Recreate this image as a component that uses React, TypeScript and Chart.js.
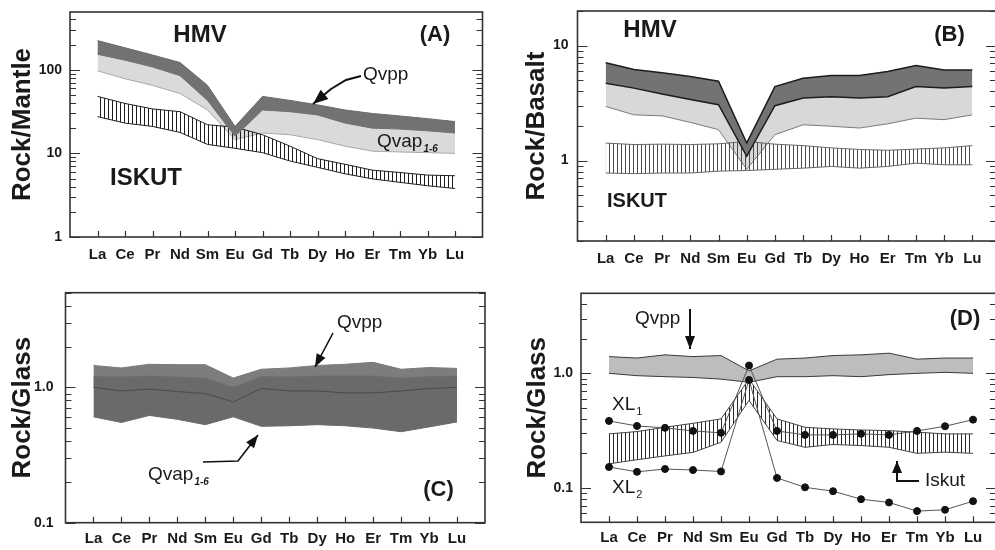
import React, { useEffect, useRef } from 'react';
import { Chart, registerables } from 'chart.js';

Chart.register(...registerables);

const FONT = '"Liberation Sans", Arial, Helvetica, sans-serif';

// ---------- categories ----------
const REE = ['La', 'Ce', 'Pr', 'Nd', 'Sm', 'Eu', 'Gd', 'Tb', 'Dy', 'Ho', 'Er', 'Tm', 'Yb', 'Lu'];
const X_POS = REE.map((_, i) => i + 1);

// ---------- Panel A : Rock/Mantle ----------
const A_QVPP_HI = [223, 183, 150, 122, 65, 21, 48, 43, 38, 33, 30, 28, 26, 24];
const A_QVPP_LO = [153, 130, 108, 85, 43, 16, 33, 31.5, 28.8, 23, 20, 19.5, 18.6, 17.5];
const A_QVAP_HI = [165, 140, 116, 92, 48, 18, 38, 35, 32, 26, 23, 22, 21, 20];
const A_QVAP_LO = [97, 78, 65, 52, 33, 14.6, 17.5, 16.7, 14.6, 12.2, 10.6, 10.4, 10.2, 10];
const A_ISKUT_HI = [48, 39.5, 34, 31.5, 22, 20.6, 16.7, 12.2, 8.65, 7.4, 6.3, 5.9, 5.5, 5.4];
const A_ISKUT_LO = [27.5, 23, 21, 17.8, 12.8, 11.5, 10.2, 8.1, 6.8, 5.7, 4.95, 4.5, 4.1, 3.8];
const A_Y_TICKS = [1, 10, 100];
const A_Y_TEXT = ['1', '10', '100'];

// ---------- Panel B : Rock/Basalt ----------
const B_QVPP_HI = [7.1, 6.2, 5.8, 5.4, 4.9, 1.42, 4.4, 5.2, 5.5, 5.5, 5.95, 6.7, 6.15, 6.15];
const B_QVPP_LO = [4.7, 4.27, 3.8, 3.4, 3.06, 1.09, 3.0, 3.5, 3.6, 3.5, 3.6, 4.4, 4.27, 4.4];
const B_QVAP_HI = [4.8, 4.35, 3.9, 3.5, 3.15, 1.3, 3.1, 3.6, 3.7, 3.6, 3.7, 4.5, 4.35, 4.5];
const B_QVAP_LO = [2.96, 2.5, 2.45, 2.15, 1.86, 0.84, 1.68, 2.05, 1.99, 1.92, 2.09, 2.34, 2.27, 2.5];
const B_ISKUT_HI = [1.42, 1.38, 1.39, 1.38, 1.4, 1.47, 1.39, 1.35, 1.29, 1.25, 1.23, 1.26, 1.29, 1.35];
const B_ISKUT_LO = [0.78, 0.77, 0.78, 0.78, 0.81, 0.82, 0.84, 0.86, 0.89, 0.86, 0.89, 0.95, 0.92, 0.92];
const B_Y_TICKS = [1, 10];
const B_Y_TEXT = ['1', '10'];

// ---------- Panel C : Rock/Glass ----------
const C_QVPP_HI = [1.45, 1.39, 1.48, 1.47, 1.47, 1.17, 1.36, 1.39, 1.45, 1.48, 1.53, 1.36, 1.4, 1.38];
const C_QVPP_LO = [1.0, 0.94, 0.97, 0.93, 0.9, 0.78, 0.98, 0.94, 0.94, 0.91, 0.91, 0.94, 0.98, 1.0];
const C_QVAP_HI = [1.2, 1.19, 1.21, 1.19, 1.17, 1.0, 1.2, 1.19, 1.21, 1.21, 1.21, 1.17, 1.2, 1.21];
const C_QVAP_LO = [0.605, 0.55, 0.62, 0.58, 0.53, 0.605, 0.515, 0.52, 0.53, 0.52, 0.5, 0.47, 0.51, 0.555];
const C_Y_TICKS = [0.1, 1];
const C_Y_TEXT = ['0.1', '1.0'];

// ---------- Panel D : Rock/Glass ----------
const D_QVPP_HI = [1.4, 1.36, 1.45, 1.4, 1.43, 1.05, 1.33, 1.36, 1.43, 1.45, 1.5, 1.33, 1.36, 1.36];
const D_QVPP_LO = [1.0, 0.954, 0.935, 0.92, 0.89, 0.835, 0.935, 0.935, 0.954, 0.935, 0.974, 1.0, 1.02, 1.0];
const D_ISKUT_HI = [0.296, 0.31, 0.338, 0.366, 0.4, 0.89, 0.4, 0.338, 0.327, 0.32, 0.316, 0.306, 0.296, 0.296];
const D_ISKUT_LO = [0.162, 0.176, 0.19, 0.204, 0.25, 0.58, 0.259, 0.226, 0.239, 0.234, 0.226, 0.2, 0.205, 0.2];
const D_XL1 = [0.384, 0.347, 0.334, 0.314, 0.302, 1.17, 0.314, 0.29, 0.29, 0.296, 0.29, 0.314, 0.345, 0.394];
const D_XL2 = [0.152, 0.138, 0.146, 0.143, 0.139, 0.875, 0.122, 0.101, 0.0935, 0.0796, 0.0745, 0.0626, 0.0643, 0.0765];
const D_Y_TICKS = [0.1, 1];
const D_Y_TEXT = ['0.1', '1.0'];

// ---------- helpers ----------
function toXY(arr: number[]) {
  return arr.map((v, i) => ({ x: X_POS[i], y: v }));
}

function band(
  lo: number[], hi: number[], fill: any, loLine: string, hiLine: string, lw: number,
  order: number, loOrder?: number
) {
  return [
    { data: toXY(lo), borderColor: loLine, borderWidth: lw, pointRadius: 0, fill: false, order: loOrder ?? order, tension: 0 },
    { data: toXY(hi), borderColor: hiLine, borderWidth: lw, pointRadius: 0, fill: '-1', backgroundColor: fill, order, tension: 0 },
  ];
}

function hatch(color: string, spacing: number) {
  const c = document.createElement('canvas');
  c.width = spacing;
  c.height = 8;
  const g = c.getContext('2d')!;
  g.fillStyle = color;
  g.fillRect(0, 0, 1, 8);
  return g.createPattern(c, 'repeat');
}

type Note =
  | { kind: 'text'; text: string; x: number; y: number; size: number; bold?: boolean; align?: CanvasTextAlign; sub?: string; subSize?: number; subStyle?: string }
  | { kind: 'arrow'; pts: number[][]; head: number; hw: number; lw?: number };

function drawNotes(ctx: CanvasRenderingContext2D, notes: Note[]) {
  ctx.save();
  for (const n of notes) {
    if (n.kind === 'text') {
      ctx.font = `${n.bold ? 'bold ' : ''}${n.size}px ${FONT}`;
      ctx.fillStyle = '#1a1a1a';
      ctx.textBaseline = 'middle';
      ctx.textAlign = n.align || 'left';
      ctx.fillText(n.text, n.x, n.y);
      if (n.sub) {
        const w = ctx.measureText(n.text).width;
        const sx = n.align === 'center' ? n.x + w / 2 : n.x + w;
        ctx.font = `${n.subStyle || ''} ${n.subSize || 11}px ${FONT}`;
        ctx.textAlign = 'left';
        ctx.fillText(n.sub, sx + 1, n.y + n.size * 0.38);
      }
    } else {
      const p = n.pts;
      ctx.strokeStyle = '#111';
      ctx.fillStyle = '#111';
      ctx.lineWidth = n.lw || 1.6;
      ctx.beginPath();
      ctx.moveTo(p[0][0], p[0][1]);
      for (let i = 1; i < p.length; i++) ctx.lineTo(p[i][0], p[i][1]);
      ctx.stroke();
      const [x1, y1] = p[p.length - 2];
      const [x2, y2] = p[p.length - 1];
      const a = Math.atan2(y2 - y1, x2 - x1);
      const c = Math.cos(a), s = Math.sin(a);
      ctx.beginPath();
      ctx.moveTo(x2, y2);
      ctx.lineTo(x2 - n.head * c + (n.hw / 2) * s, y2 - n.head * s - (n.hw / 2) * c);
      ctx.lineTo(x2 - n.head * c - (n.hw / 2) * s, y2 - n.head * s + (n.hw / 2) * c);
      ctx.closePath();
      ctx.fill();
    }
  }
  ctx.restore();
}

interface Panel {
  left: number; top: number; width: number; height: number;
  area: { l: number; t: number; r: number; b: number };
  xMax: number;
  yMin: number; yMax: number; yTicks: number[]; yText: string[];
  title: string; titleX: number; yPad: number; xPad: number;
  datasets: () => any[];
  notes: Note[];
}

const PANELS: Panel[] = [
  {
    left: 0, top: 0, width: 497, height: 275,
    area: { l: 70, t: 12, r: 482.5, b: 237 }, xMax: 15,
    yMin: 1, yMax: 490, yTicks: A_Y_TICKS, yText: A_Y_TEXT,
    title: 'Rock/Mantle', titleX: 22.5, yPad: 8, xPad: 9,
    datasets: () => [
      ...band(A_QVPP_LO, A_QVPP_HI, '#727272', '#727272', '#6a6a6a', 1, 1),
      ...band(A_ISKUT_LO, A_ISKUT_HI, hatch('#1e1e1e', 4), '#1e1e1e', '#1e1e1e', 1, 2),
      ...band(A_QVAP_LO, A_QVAP_HI, '#dadada', '#a8a8a8', '#dadada', 1, 3),
    ],
    notes: [
      { kind: 'text', text: 'HMV', x: 200, y: 35, size: 24, bold: true, align: 'center' },
      { kind: 'text', text: '(A)', x: 435, y: 35, size: 22, bold: true, align: 'center' },
      { kind: 'text', text: 'Qvpp', x: 363, y: 75, size: 19 },
      { kind: 'arrow', pts: [[361, 76], [346, 80], [331, 89], [313, 104]], head: 15, hw: 12, lw: 2 },
      { kind: 'text', text: 'Qvap', x: 377, y: 142, size: 19, sub: '1-6', subSize: 10, subStyle: 'italic bold' },
      { kind: 'text', text: 'ISKUT', x: 110, y: 178, size: 24, bold: true },
    ],
  },
  {
    left: 497, top: 0, width: 510, height: 275,
    area: { l: 80.5, t: 11, r: 499, b: 241 }, xMax: 14.84,
    yMin: 0.2, yMax: 20, yTicks: B_Y_TICKS, yText: B_Y_TEXT,
    title: 'Rock/Basalt', titleX: 40, yPad: 9, xPad: 9,
    datasets: () => [
      ...band(B_QVPP_LO, B_QVPP_HI, '#737373', '#1c1c1c', '#1c1c1c', 1.5, 1),
      ...band(B_ISKUT_LO, B_ISKUT_HI, hatch('#4a4a4a', 4), '#666', '#666', 1, 2),
      ...band(B_QVAP_LO, B_QVAP_HI, '#d8d8d8', '#7a7a7a', '#d8d8d8', 1, 3),
    ],
    notes: [
      { kind: 'text', text: 'HMV', x: 153, y: 30, size: 24, bold: true, align: 'center' },
      { kind: 'text', text: '(B)', x: 452.5, y: 35, size: 22, bold: true, align: 'center' },
      { kind: 'text', text: 'ISKUT', x: 110, y: 201, size: 20, bold: true },
    ],
  },
  {
    left: 0, top: 275, width: 497, height: 275,
    area: { l: 65.5, t: 17.7, r: 485, b: 247.7 }, xMax: 15,
    yMin: 0.1, yMax: 5, yTicks: C_Y_TICKS, yText: C_Y_TEXT,
    title: 'Rock/Glass', titleX: 22.5, yPad: 12, xPad: 7,
    datasets: () => [
      ...band(C_QVPP_LO, C_QVPP_HI, '#7d7d7d', '#4a4a4a', '#7a7a7a', 1, 3, 0),
      ...band(C_QVAP_LO, C_QVAP_HI, '#6a6a6a', '#6a6a6a', '#6f6f6f', 1, 2),
    ],
    notes: [
      { kind: 'text', text: 'Qvpp', x: 337, y: 48, size: 19 },
      { kind: 'arrow', pts: [[333, 58], [315, 92]], head: 13, hw: 10 },
      { kind: 'text', text: 'Qvap', x: 148, y: 200, size: 19, sub: '1-6', subSize: 10, subStyle: 'italic bold' },
      { kind: 'arrow', pts: [[203, 187], [238, 186], [258, 160]], head: 13, hw: 10 },
      { kind: 'text', text: '(C)', x: 438.5, y: 215, size: 22, bold: true, align: 'center' },
    ],
  },
  {
    left: 497, top: 275, width: 510, height: 275,
    area: { l: 84, t: 18.3, r: 499, b: 247.3 }, xMax: 14.82,
    yMin: 0.05, yMax: 5, yTicks: D_Y_TICKS, yText: D_Y_TEXT,
    title: 'Rock/Glass', titleX: 40.5, yPad: 8, xPad: 7,
    datasets: () => [
      { data: toXY(D_XL1), borderColor: '#555', borderWidth: 1, pointRadius: 3.5, pointBackgroundColor: '#111', pointBorderColor: '#111', fill: false, order: 1, tension: 0 },
      { data: toXY(D_XL2), borderColor: '#555', borderWidth: 1, pointRadius: 3.5, pointBackgroundColor: '#111', pointBorderColor: '#111', fill: false, order: 1, tension: 0 },
      ...band(D_ISKUT_LO, D_ISKUT_HI, hatch('#2a2a2a', 4), '#444', '#444', 1, 2),
      ...band(D_QVPP_LO, D_QVPP_HI, '#bdbdbd', '#3a3a3a', '#3a3a3a', 1, 3),
    ],
    notes: [
      { kind: 'text', text: 'Qvpp', x: 138, y: 44, size: 19 },
      { kind: 'arrow', pts: [[193, 34], [193, 74]], head: 13, hw: 10, lw: 2 },
      { kind: 'text', text: '(D)', x: 468, y: 44, size: 22, bold: true, align: 'center' },
      { kind: 'text', text: 'XL', x: 115, y: 130, size: 19, sub: '1', subSize: 11 },
      { kind: 'text', text: 'XL', x: 115, y: 213, size: 19, sub: '2', subSize: 11 },
      { kind: 'text', text: 'Iskut', x: 428, y: 206, size: 19 },
      { kind: 'arrow', pts: [[422, 206], [400, 206], [400, 186]], head: 12, hw: 10, lw: 2 },
    ],
  },
];

const frameTicks = {
  id: 'frameTicks',
  afterDatasetsDraw(chart: any) {
    const { ctx, chartArea } = chart;
    const { left, right, top, bottom } = chartArea;
    const x = chart.scales.x;
    const y = chart.scales.y;
    ctx.save();
    ctx.strokeStyle = '#333';
    ctx.lineWidth = 1.2;
    const min = y.min, max = y.max;
    const d0 = Math.floor(Math.log10(min) + 1e-9);
    const d1 = Math.ceil(Math.log10(max));
    ctx.beginPath();
    for (let d = d0; d <= d1; d++) {
      for (let k = 1; k <= 9; k++) {
        const v = k * Math.pow(10, d);
        if (v < min * 0.999 || v > max * 1.001) continue;
        const py = Math.round(y.getPixelForValue(v)) + 0.5;
        const len = k === 1 ? 10 : 6;
        ctx.moveTo(left, py);
        ctx.lineTo(left + len, py);
        ctx.moveTo(right, py);
        ctx.lineTo(right - len, py);
      }
    }
    for (const xv of X_POS) {
      const px = Math.round(x.getPixelForValue(xv)) + 0.5;
      ctx.moveTo(px, bottom);
      ctx.lineTo(px, bottom - 6);
    }
    ctx.stroke();
    ctx.lineWidth = 1.6;
    ctx.strokeRect(left, top, right - left, bottom - top);
    ctx.restore();
  },
};

function buildChart(canvas: HTMLCanvasElement, p: Panel) {
  const notesPlugin = {
    id: 'notes',
    afterDraw(chart: any) {
      drawNotes(chart.ctx, p.notes);
    },
  };
  return new Chart(canvas, {
    type: 'line',
    data: { datasets: p.datasets() },
    options: {
      responsive: false,
      animation: false,
      events: [],
      layout: { padding: { left: 0, top: p.area.t, right: p.width - p.area.r, bottom: 0 } },
      plugins: { legend: { display: false }, tooltip: { enabled: false } },
      scales: {
        x: {
          type: 'linear',
          min: 0,
          max: p.xMax,
          grid: { display: false, drawTicks: false },
          border: { display: false },
          ticks: {
            autoSkip: false,
            maxRotation: 0,
            padding: p.xPad,
            color: '#1a1a1a',
            font: { family: FONT, size: 15, weight: 'bold' },
            callback: (v: any) => REE[Math.round(Number(v)) - 1] ?? '',
          },
          afterBuildTicks: (s: any) => {
            s.ticks = X_POS.map((v) => ({ value: v }));
          },
          afterFit: (s: any) => {
            s.height = p.height - p.area.b;
            s.paddingLeft = 0;
            s.paddingRight = 0;
          },
        },
        y: {
          type: 'logarithmic',
          min: p.yMin,
          max: p.yMax,
          grid: { display: false, drawTicks: false },
          border: { display: false },
          ticks: {
            padding: p.yPad,
            color: '#1a1a1a',
            font: { family: FONT, size: 14, weight: 'bold' },
            callback: (_v: any, i: number) => p.yText[i] ?? '',
          },
          title: {
            display: true,
            text: p.title,
            color: '#1a1a1a',
            font: { family: FONT, size: 26, weight: 'bold' },
            padding: { top: p.titleX - 15.6, bottom: 0 },
          },
          afterBuildTicks: (s: any) => {
            s.ticks = p.yTicks.map((v) => ({ value: v }));
          },
          afterFit: (s: any) => {
            s.width = p.area.l;
            s.paddingTop = 0;
            s.paddingBottom = 0;
          },
        },
      },
    } as any,
    plugins: [frameTicks, notesPlugin],
  });
}

function PanelCanvas({ p }: { p: Panel }) {
  const ref = useRef<HTMLCanvasElement>(null);
  useEffect(() => {
    if (!ref.current) return;
    const chart = buildChart(ref.current, p);
    return () => chart.destroy();
  }, [p]);
  return (
    <canvas
      ref={ref}
      width={p.width}
      height={p.height}
      style={{ position: 'absolute', left: p.left, top: p.top, width: p.width, height: p.height }}
    />
  );
}

export default function App() {
  return (
    <div
      style={{
        position: 'absolute',
        left: 0,
        top: 0,
        width: 995,
        height: 550,
        overflow: 'hidden',
        background: '#ffffff',
      }}
    >
      {PANELS.map((p, i) => (
        <PanelCanvas key={i} p={p} />
      ))}
    </div>
  );
}
